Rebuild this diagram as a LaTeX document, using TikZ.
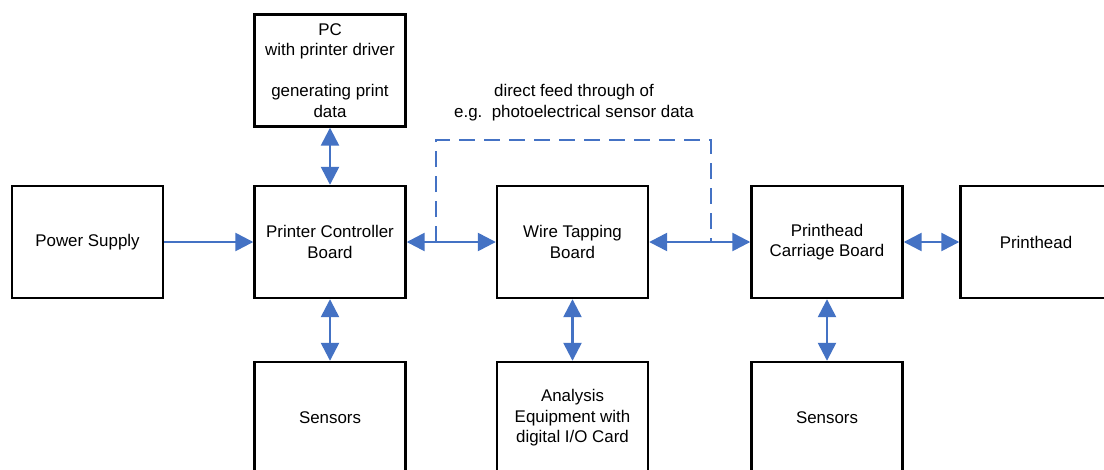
\documentclass[tikz,border=0pt]{standalone}
\usepackage{fontspec}
\setmainfont{Liberation Sans}
\usetikzlibrary{arrows.meta}
\definecolor{arrblue}{HTML}{4472C4}
\begin{document}
\begin{tikzpicture}[x=1pt,y=-1pt,
  txt/.style={font=\fontsize{16.9}{20.6}\selectfont,align=center,text=black},
  box/.style={txt,draw=black,line width=2.4pt,minimum width=151pt,minimum height=112pt,inner sep=0pt},
  conn/.style={draw=arrblue,line width=2.5pt},
  tipone/.style={-{Triangle[length=18pt,width=18pt]}},
  tipboth/.style={{Triangle[length=18pt,width=18pt]}-{Triangle[length=18pt,width=18pt]}},
  dashline/.style={draw=arrblue,line width=2.2pt,dash pattern=on 16pt off 9pt}]
\path[use as bounding box] (0,0) rectangle (1104,469);
\clip (0,0) rectangle (1104,469);
\fill[white] (0,0) rectangle (1104,469);
% boxes
\node[box] (power) at (87.5,242) {Power Supply};
\node[box] (pc) at (330,70.5) {PC\\with printer driver\\[20.6pt]generating print\\data};
\node[box] (pcb) at (330,242) {Printer Controller\\Board};
\node[box] (sensl) at (330,418) {Sensors};
\node[box] (wtb) at (572.5,242) {Wire Tapping\\Board};
\node[box] (ana) at (572.5,418) {Analysis\\Equipment with\\digital I/O Card};
\node[box] (phcb) at (827,242) {Printhead\\Carriage Board};
\node[box] (sensr) at (827,418) {Sensors};
\node[box] (ph) at (1036,242) {Printhead};
% label
\node[txt] (lbl) at (574,102.5) {direct feed through of\\e.g.\ \ photoelectrical sensor data};
% connectors
\draw[conn,tipone] (power.east) -- (pcb.west);
\draw[conn,tipboth] (pcb.east) -- (wtb.west);
\draw[conn,tipboth] (wtb.east) -- (phcb.west);
\draw[conn,tipboth] (phcb.east) -- (ph.west);
\draw[conn,tipboth] (pc.south) -- (pcb.north);
\draw[conn,tipboth] (pcb.south) -- (sensl.north);
\draw[conn,tipboth] (wtb.south) -- (ana.north);
\draw[conn,tipboth] (phcb.south) -- (sensr.north);
% dashed feed-through
\coordinate (dl) at (436,242);
\coordinate (dr) at (711,242);
\draw[dashline] (dl) -- ++(0,-102) -| (dr);
\end{tikzpicture}
\end{document}
